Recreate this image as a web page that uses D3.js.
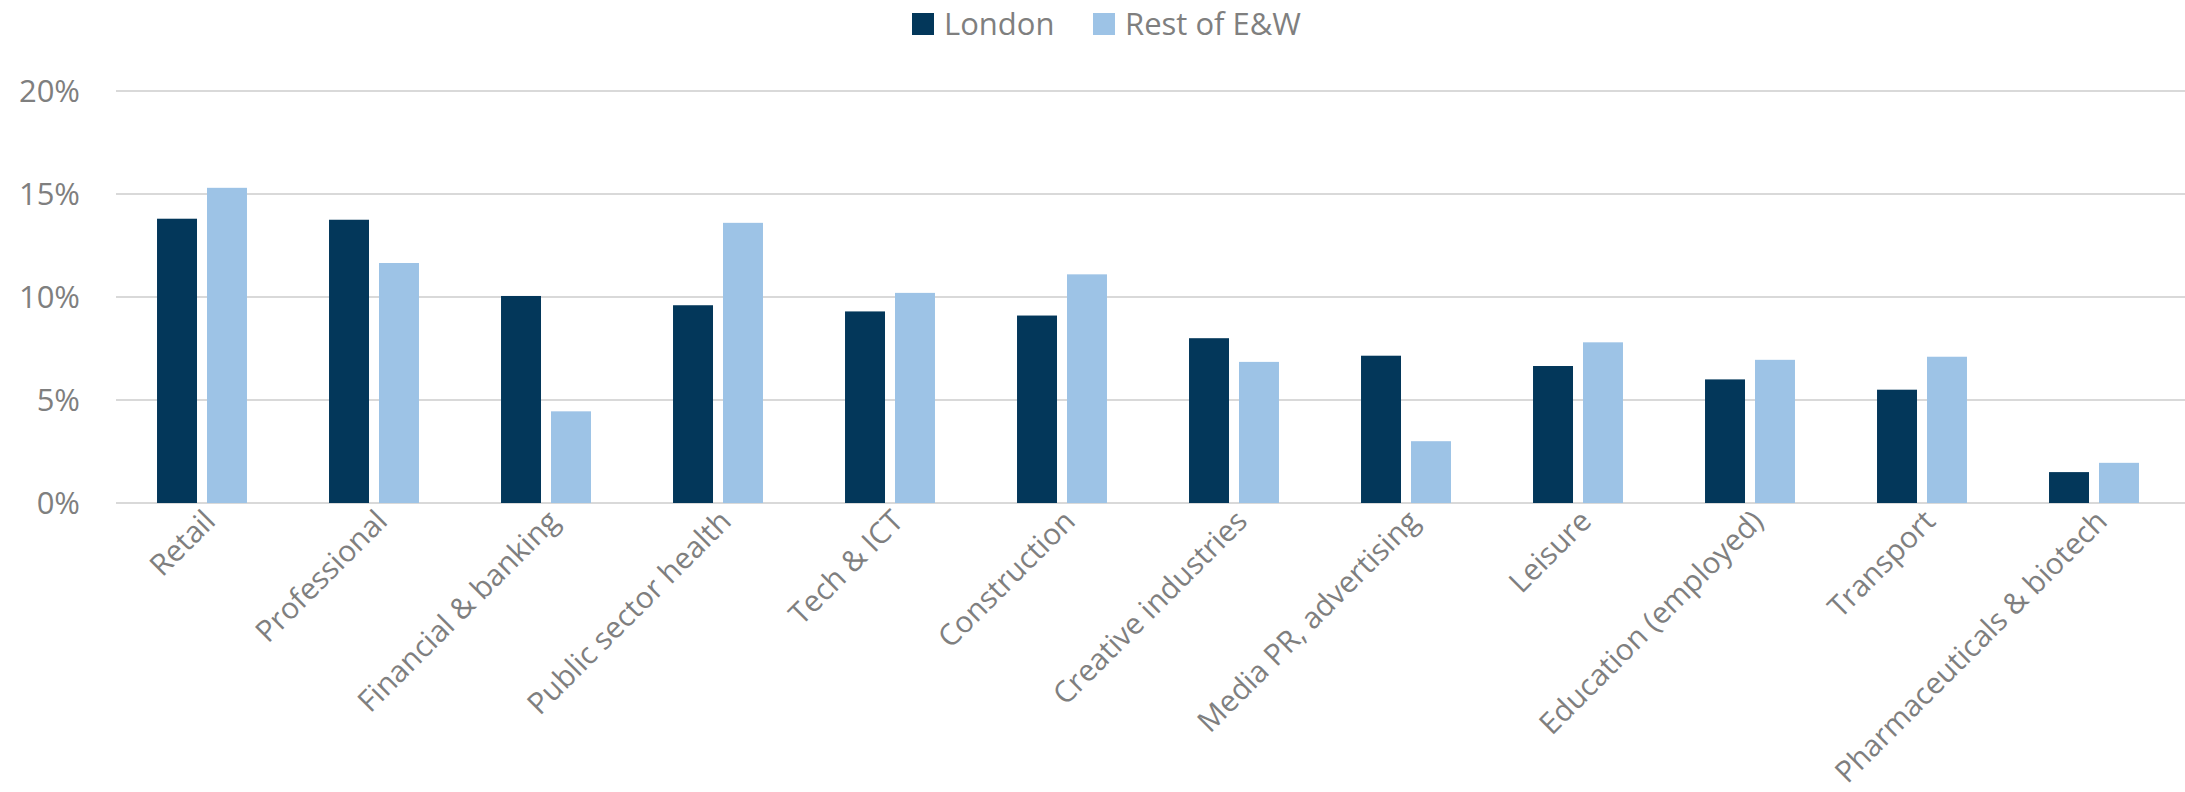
<!DOCTYPE html>
<html>
<head>
<meta charset="utf-8">
<script src="https://cdn.jsdelivr.net/npm/d3@7"></script>
<style>
  html, body { margin: 0; padding: 0; background: #fff; }
  svg { display: block; }
  text { font-family: "Open Sans", "Liberation Sans", sans-serif; fill: #7f7f7f; }
</style>
</head>
<body>
<svg id="chart" width="2185" height="792"></svg>
<script>
const categories = ["Retail", "Professional", "Financial & banking", "Public sector health",
  "Tech & ICT", "Construction", "Creative industries", "Media PR, advertising",
  "Leisure", "Education (employed)", "Transport", "Pharmaceuticals & biotech"];
const seriesNames = ["London", "Rest of E&W"];
const londonValues = [13.8, 13.75, 10.05, 9.6, 9.3, 9.1, 8.0, 7.15, 6.65, 6.0, 5.5, 1.5];
const restValues = [15.3, 11.65, 4.45, 13.6, 10.2, 11.1, 6.85, 3.0, 7.8, 6.95, 7.1, 1.95];
const yTicks = [0, 5, 10, 15, 20];
const yTickLabels = ["0%", "5%", "10%", "15%", "20%"];
const colors = ["#03375a", "#9dc3e6"];

const svg = d3.select("#chart");
const plotLeft = 116, plotRight = 2180, plotTop = 91, plotBottom = 503;

const x0 = d3.scaleBand().domain(categories).range([plotLeft, plotRight])
  .paddingInner(0.477).paddingOuter(0.2385);
const x1 = d3.scaleBand().domain(seriesNames).range([0, x0.bandwidth()]).paddingInner(0.2);
const y = d3.scaleLinear().domain([0, 20]).range([plotBottom, plotTop]);

// gridlines
svg.append("g").selectAll("line").data(yTicks).join("line")
  .attr("x1", plotLeft).attr("x2", 2185)
  .attr("y1", d => y(d)).attr("y2", d => y(d))
  .attr("stroke", "#d9d9d9").attr("stroke-width", 2);

// y labels
svg.append("g").selectAll("text").data(yTicks).join("text")
  .attr("x", 80).attr("y", d => y(d))
  .attr("dy", "0.36em").attr("text-anchor", "end")
  .style("font-size", "31px")
  .text((d, i) => yTickLabels[i]);

// bars
const data = categories.map((c, i) => ({ cat: c, vals: [londonValues[i], restValues[i]] }));
const groups = svg.append("g").selectAll("g").data(data).join("g")
  .attr("transform", d => `translate(${x0(d.cat)},0)`);
groups.selectAll("rect").data(d => d.vals.map((v, j) => ({ s: seriesNames[j], v, j })))
  .join("rect")
  .attr("x", d => x1(d.s)).attr("width", x1.bandwidth())
  .attr("y", d => y(d.v)).attr("height", d => y(0) - y(d.v))
  .attr("fill", d => colors[d.j]);

// category labels
svg.append("g").selectAll("text").data(categories).join("text")
  .attr("transform", d => `translate(${x0(d) + x0.bandwidth() / 2 + 15},${plotBottom + 20}) rotate(-45)`)
  .attr("text-anchor", "end")
  .style("font-size", "29.8px")
  .text(d => d);

// legend
const legend = svg.append("g");
const legendItems = [{ name: seriesNames[0], x: 912 }, { name: seriesNames[1], x: 1093 }];
legendItems.forEach((it, i) => {
  legend.append("rect").attr("x", it.x).attr("y", 13).attr("width", 22).attr("height", 22)
    .attr("fill", colors[i]);
  legend.append("text").attr("x", it.x + 32).attr("y", 35)
    .style("font-size", "31px").text(it.name);
});
</script>
</body>
</html>
